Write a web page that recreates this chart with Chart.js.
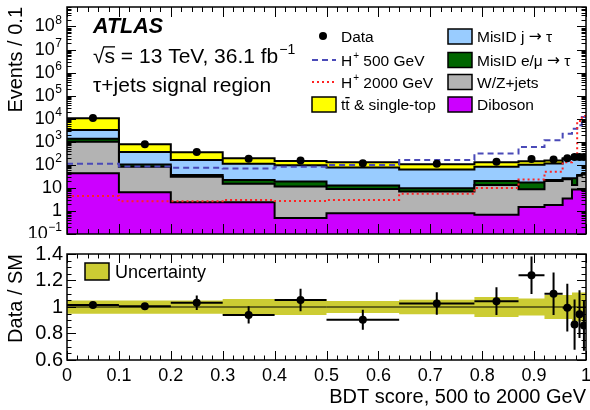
<!DOCTYPE html>
<html>
<head>
<meta charset="utf-8">
<script src="https://cdn.jsdelivr.net/npm/chart.js@4.4.1/dist/chart.umd.min.js"></script>
<style>
  html, body { margin: 0; padding: 0; background: #fff; }
  #wrap { position: relative; width: 590px; height: 410px; }
  canvas { position: absolute; left: 0; }
  #main { top: 0; }
  #ratio { top: 238px; }
</style>
</head>
<body>
<div id="wrap">
  <canvas id="main" width="590" height="238"></canvas>
  <canvas id="ratio" width="590" height="172"></canvas>
</div>
<script>
// bin edges of the BDT score
var edges = [0, 0.1, 0.2, 0.3, 0.4, 0.5, 0.64, 0.785, 0.87, 0.92, 0.955, 0.973, 0.983, 0.992, 1.0];

// events per bin for each background
var diboson  = [43, 6.5, 2.4, 2.4, 0.49, 0.8, 0.8, 0.68, 1.5, 1.8, 3.5, 8.5, 8.5, 8];
var wzJets   = [960, 76, 28, 12.6, 10.9, 8.2, 6.1, 12.6, 7.3, 18, 20, 5, 25, 30];
var misIdLep = [350, 21, 6, 7, 7.6, 3.6, 2.7, 6.7, 8.2, 2, 2.5, 12.5, 3, 3];
var misIdJet = [1850, 256, 124, 88, 78, 64, 53, 63, 83, 93, 154, 214, 185, 205];
var ttbar    = [7300, 420, 190, 85, 50, 53, 44, 47, 44, 40, 15, 14, 10, 10];

var dataEvents = [10650, 785, 360, 183, 155, 117, 110, 136, 178, 170, 194, 220, 220, 220];
var hp500  = [110, 85, 75, 70, 83, 98, 160, 310, 600, 1150, 2250, 3700, 5200, 12000];
var hp2000 = [4.5, 2.6, 2.6, 3.0, 2.7, 3.0, 5.6, 10, 23, 50, 130, 260, 8000, 13000];

// lower panel
var ratio    = [1.015, 1.005, 1.032, 0.94, 1.052, 0.904, 1.027, 1.044, 1.24, 1.10, 0.995, 0.867, 0.946, 0.86];
var ratioErr = [0.01, 0.02, 0.055, 0.065, 0.085, 0.075, 0.085, 0.105, 0.142, 0.16, 0.18, 0.19, 0.18, 0.19];
var bandHalf = [0.05, 0.05, 0.05, 0.06, 0.06, 0.045, 0.055, 0.075, 0.065, 0.09, 0.09, 0.11, 0.11, 0.11];

// tick labels
var xTickValues = [0, 0.1, 0.2, 0.3, 0.4, 0.5, 0.6, 0.7, 0.8, 0.9, 1];
var xTickLabels = ['0', '0.1', '0.2', '0.3', '0.4', '0.5', '0.6', '0.7', '0.8', '0.9', '1'];
var ratioTicks = [0.6, 0.8, 1, 1.2, 1.4];
var ratioTickLabels = ['0.6', '0.8', '1', '1.2', '1.4'];
var logExps = [-1, 0, 1, 2, 3, 4, 5, 6, 7, 8];

var FONT = '"Liberation Sans", Arial, Helvetica, sans-serif';
Chart.defaults.font.family = FONT;
Chart.defaults.color = '#000';

var centers = edges.slice(0, -1).map(function (e, i) { return (e + edges[i + 1]) / 2; });

function steps(vals) {
  var pts = [];
  vals.forEach(function (v, i) {
    pts.push({x: edges[i], y: v});
    pts.push({x: edges[i + 1], y: v});
  });
  return pts;
}

// stacked totals, bottom layer first
var layers = [diboson, wzJets, misIdLep, misIdJet, ttbar];
var stackTops = [];
var run = diboson.map(function () { return 0; });
layers.forEach(function (l) {
  run = run.map(function (v, i) { return v + l[i]; });
  stackTops.push(run);
});

var colors = {
  diboson: '#cc00ff',
  wz: '#b3b3b3',
  lep: '#006600',
  jet: '#99ccff',
  top: '#ffff00',
  h500: '#4a4ab8',
  h2000: '#ff2222',
  band: '#cccc33'
};

function histo(vals, fillColor) {
  return {
    data: steps(vals), borderColor: '#000', borderWidth: 2, backgroundColor: fillColor,
    fill: 'start', pointRadius: 0, tension: 0, borderJoinStyle: 'miter'
  };
}

// draws text with superscripts, bars and font swaps
function rich(ctx, x, y, parts, size, weight) {
  var w = weight ? weight + ' ' : '';
  parts.forEach(function (p) {
    if (typeof p === 'string') {
      ctx.font = w + size + 'px ' + FONT;
      ctx.fillText(p, x, y);
      x += ctx.measureText(p).width;
    } else if (p.sup) {
      ctx.font = w + Math.round(size * 0.66) + 'px ' + FONT;
      ctx.fillText(p.sup, x + 1, y - size * 0.42);
      x += ctx.measureText(p.sup).width + 1;
    } else if (p.bar) {
      ctx.font = w + size + 'px ' + FONT;
      var bw = ctx.measureText(p.bar).width;
      ctx.fillText(p.bar, x, y);
      ctx.fillRect(x - (p.pre || 0), y - size * p.h, bw + (p.pre || 0), 1.3);
      x += bw;
    } else if (p.sym) {
      ctx.font = w + size + 'px "DejaVu Sans", sans-serif';
      ctx.fillText(p.sym, x, y + (p.dy || 0));
      x += ctx.measureText(p.sym).width;
    }
  });
  return x;
}

function inwardTicks(chart, yTicks, xLen) {
  var ctx = chart.ctx, a = chart.chartArea;
  var xs = chart.scales.x, ys = chart.scales.y;
  ctx.save();
  ctx.strokeStyle = '#000';
  ctx.lineWidth = 1;
  ctx.beginPath();
  for (var k = 0; k <= 50; k++) {
    var px = Math.round(xs.getPixelForValue(k / 50)) + 0.5;
    var len = k % 5 === 0 ? xLen : xLen / 2;
    ctx.moveTo(px, a.bottom); ctx.lineTo(px, a.bottom - len);
    ctx.moveTo(px, a.top); ctx.lineTo(px, a.top + len);
  }
  yTicks.forEach(function (t) {
    var py = Math.round(ys.getPixelForValue(t.v)) + 0.5;
    ctx.moveTo(a.left, py); ctx.lineTo(a.left + t.len, py);
    ctx.moveTo(a.right, py); ctx.lineTo(a.right - t.len, py);
  });
  ctx.stroke();
  ctx.lineWidth = 1.5;
  ctx.strokeRect(a.left, a.top, a.right - a.left, a.bottom - a.top);
  ctx.restore();
}

var YMAX = 7e8;
var logTicks = [];
logExps.forEach(function (e) {
  for (var m = 1; m <= 9; m++) {
    var v = m * Math.pow(10, e);
    if (v <= YMAX) logTicks.push({v: v, len: m === 1 ? 9 : 4.5});
  }
});

var mainDecor = {
  id: 'mainDecor',
  afterDraw: function (chart) {
    var ctx = chart.ctx, ys = chart.scales.y;
    inwardTicks(chart, logTicks, 10);
    ctx.save();
    ctx.fillStyle = '#000';
    ctx.textBaseline = 'middle';
    ctx.textAlign = 'right';
    logExps.forEach(function (e) {
      var py = ys.getPixelForValue(Math.pow(10, e));
      if (e === 0 || e === 1) {
        ctx.font = '18px ' + FONT;
        ctx.fillText(e === 0 ? '1' : '10', 62, py);
      } else {
        var sup = e < 0 ? '\u22121' : String(e);
        ctx.font = '12px ' + FONT;
        var sw = ctx.measureText(sup).width;
        ctx.fillText(sup, 62, py - 6);
        ctx.font = '18px ' + FONT;
        ctx.fillText('10', 62 - sw - 0.5, py);
      }
    });

    ctx.textAlign = 'left';
    ctx.textBaseline = 'alphabetic';
    rich(ctx, 93, 33, ['ATLAS'], 21.5, 'italic bold');
    rich(ctx, 93, 63, ['\u221A', {bar: 's', h: 0.8, pre: 1}, ' = 13 TeV, 36.1 fb', {sup: '\u22121'}], 21);
    rich(ctx, 93, 92, ['\u03C4+jets signal region'], 21);

    // legend, left column
    var lx = 341, fs = 15.5;
    ctx.beginPath();
    ctx.arc(323, 36, 4, 0, Math.PI * 2);
    ctx.fill();
    rich(ctx, lx, 41.5, ['Data'], fs);

    ctx.lineWidth = 2;
    ctx.strokeStyle = colors.h500;
    ctx.setLineDash([6, 4]);
    ctx.beginPath(); ctx.moveTo(312, 60); ctx.lineTo(336, 60); ctx.stroke();
    rich(ctx, lx, 65.5, ['H', {sup: '+'}, ' 500 GeV'], fs);

    ctx.strokeStyle = colors.h2000;
    ctx.setLineDash([2, 3]);
    ctx.beginPath(); ctx.moveTo(312, 82); ctx.lineTo(336, 82); ctx.stroke();
    ctx.setLineDash([]);
    rich(ctx, lx, 87.5, ['H', {sup: '+'}, ' 2000 GeV'], fs);

    function box(x, cy, color) {
      ctx.fillStyle = color;
      ctx.fillRect(x, cy - 7.5, 24, 15);
      ctx.strokeStyle = '#000';
      ctx.lineWidth = 1.5;
      ctx.strokeRect(x, cy - 7.5, 24, 15);
      ctx.fillStyle = '#000';
    }
    box(312, 104.5, colors.top);
    rich(ctx, lx, 110, ['t', {bar: 't', h: 0.84}, ' & single-top'], fs);

    // legend, right column
    var rx = 477;
    box(448, 36.5, colors.jet);
    rich(ctx, rx, 42, ['MisID j ', {sym: '\u2192', dy: -1}, ' \u03C4'], fs);
    box(448, 60, colors.lep);
    rich(ctx, rx, 65.5, ['MisID e/\u03BC ', {sym: '\u2192', dy: -1}, ' \u03C4'], fs);
    box(448, 82, colors.wz);
    rich(ctx, rx, 87.5, ['W/Z+jets'], fs);
    box(448, 104.5, colors.diboson);
    rich(ctx, rx, 110, ['Diboson'], fs);
    ctx.restore();
  }
};

new Chart(document.getElementById('main'), {
  type: 'line',
  data: {
    datasets: [
      {
        data: centers.map(function (c, i) { return {x: c, y: dataEvents[i]}; }),
        showLine: false, pointRadius: 4, pointBackgroundColor: '#000', pointBorderWidth: 0
      },
      {
        data: steps(hp2000), borderColor: colors.h2000, borderWidth: 2, borderDash: [2, 3],
        fill: false, pointRadius: 0, tension: 0
      },
      {
        data: steps(hp500), borderColor: colors.h500, borderWidth: 2, borderDash: [6, 4],
        fill: false, pointRadius: 0, tension: 0
      },
      histo(stackTops[0], colors.diboson),
      histo(stackTops[1], colors.wz),
      histo(stackTops[2], colors.lep),
      histo(stackTops[3], colors.jet),
      histo(stackTops[4], colors.top)
    ]
  },
  options: {
    responsive: false,
    animation: false,
    devicePixelRatio: 1,
    layout: { padding: { top: 7, right: 1, bottom: 2, left: 0 } },
    plugins: { legend: { display: false }, tooltip: { enabled: false } },
    scales: {
      x: { type: 'linear', min: 0, max: 1, display: false },
      y: {
        type: 'logarithmic', min: 0.1, max: YMAX,
        afterFit: function (s) { s.width = 67; },
        grid: { display: false, drawTicks: false },
        border: { display: false },
        ticks: { display: false },
        title: {
          display: true, text: 'Events / 0.1', align: 'end',
          font: { size: 20 }, padding: { top: 4, bottom: 0 }
        }
      }
    }
  },
  plugins: [mainDecor]
});

var ratioYTicks = [];
for (var k = 0; k <= 16; k++) {
  ratioYTicks.push({v: 0.6 + k * 0.05, len: k % 4 === 0 ? 9 : 4.5});
}

var ratioDecor = {
  id: 'ratioDecor',
  afterDatasetsDraw: function (chart) {
    var ctx = chart.ctx, xs = chart.scales.x, ys = chart.scales.y, a = chart.chartArea;
    ctx.save();
    ctx.beginPath();
    ctx.rect(a.left, a.top, a.right - a.left, a.bottom - a.top);
    ctx.clip();
    ctx.strokeStyle = '#000';
    ctx.lineWidth = 2;
    ctx.beginPath();
    ratio.forEach(function (r, i) {
      var py = ys.getPixelForValue(r);
      ctx.moveTo(xs.getPixelForValue(edges[i]), py);
      ctx.lineTo(xs.getPixelForValue(edges[i + 1]), py);
      var cx = xs.getPixelForValue(centers[i]);
      ctx.moveTo(cx, ys.getPixelForValue(r - ratioErr[i]));
      ctx.lineTo(cx, ys.getPixelForValue(r + ratioErr[i]));
    });
    ctx.stroke();
    ctx.restore();
  },
  afterDraw: function (chart) {
    var ctx = chart.ctx;
    inwardTicks(chart, ratioYTicks, 9);
    ctx.save();
    ctx.fillStyle = colors.band;
    ctx.fillRect(85, 25, 24, 17);
    ctx.strokeStyle = '#000';
    ctx.lineWidth = 1.5;
    ctx.strokeRect(85, 25, 24, 17);
    ctx.fillStyle = '#000';
    ctx.textBaseline = 'alphabetic';
    rich(ctx, 115, 40, ['Uncertainty'], 18);
    ctx.restore();
  }
};

new Chart(document.getElementById('ratio'), {
  type: 'line',
  data: {
    datasets: [
      {
        data: centers.map(function (c, i) { return {x: c, y: ratio[i]}; }),
        showLine: false, pointRadius: 4, pointBackgroundColor: '#000', pointBorderWidth: 0
      },
      {
        data: [{x: 0, y: 1}, {x: 1, y: 1}], borderColor: '#000', borderWidth: 1,
        pointRadius: 0, fill: false
      },
      {
        data: steps(bandHalf.map(function (h) { return 1 + h; })),
        borderColor: 'transparent', borderWidth: 0, backgroundColor: colors.band,
        fill: '+1', pointRadius: 0, tension: 0
      },
      {
        data: steps(bandHalf.map(function (h) { return 1 - h; })),
        borderColor: 'transparent', borderWidth: 0, fill: false, pointRadius: 0, tension: 0
      }
    ]
  },
  options: {
    responsive: false,
    animation: false,
    devicePixelRatio: 1,
    layout: { padding: { top: 14, right: 1, bottom: 0, left: 0 } },
    plugins: { legend: { display: false }, tooltip: { enabled: false } },
    scales: {
      x: {
        type: 'linear', min: 0, max: 1,
        afterBuildTicks: function (s) { s.ticks = xTickValues.map(function (v) { return {value: v}; }); },
        afterFit: function (s) { s.height = 50; s.paddingLeft = 0; s.paddingRight = 0; },
        grid: { display: false, drawTicks: false },
        border: { display: false },
        ticks: {
          autoSkip: false, maxRotation: 0, padding: 5, font: { size: 18 },
          callback: function (v, i) { return xTickLabels[i]; }
        },
        title: {
          display: true, text: 'BDT score, 500 to 2000 GeV', align: 'end',
          font: { size: 20 }, padding: { top: 0, bottom: 1 }
        }
      },
      y: {
        min: 0.6, max: 1.4,
        afterBuildTicks: function (s) { s.ticks = ratioTicks.map(function (v) { return {value: v}; }); },
        afterFit: function (s) { s.width = 67; },
        grid: { display: false, drawTicks: false },
        border: { display: false },
        ticks: {
          autoSkip: false, padding: 4, font: { size: 20 },
          callback: function (v, i) { return ratioTickLabels[i]; }
        },
        title: {
          display: true, text: 'Data / SM', align: 'end',
          font: { size: 20 }, padding: { top: 4, bottom: 0 }
        }
      }
    }
  },
  plugins: [ratioDecor]
});
</script>
</body>
</html>
